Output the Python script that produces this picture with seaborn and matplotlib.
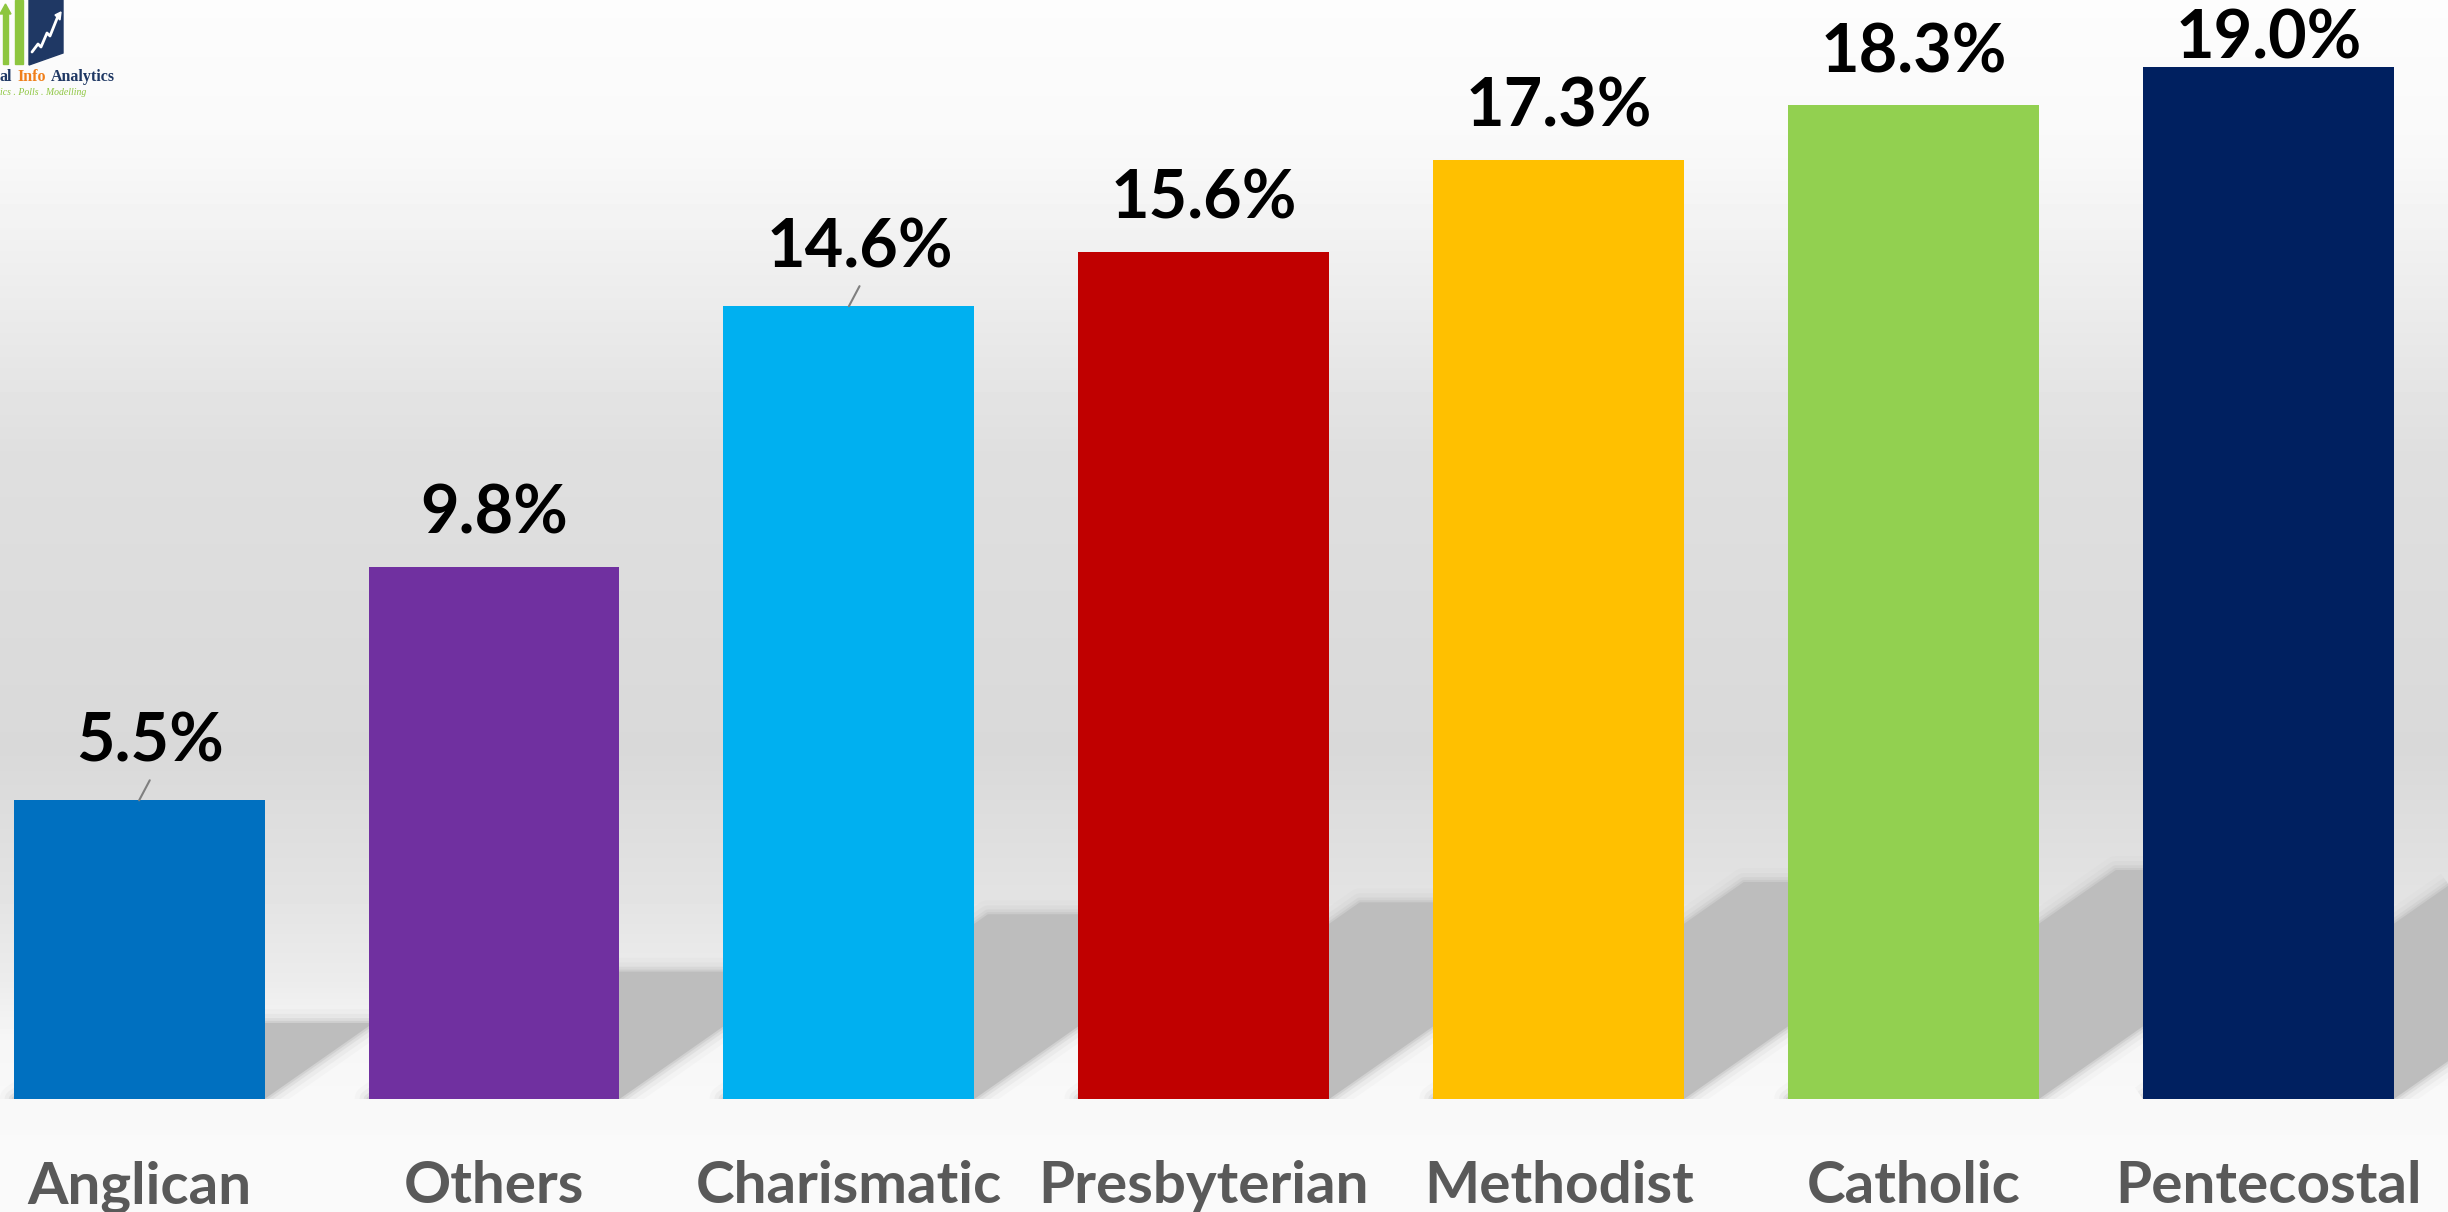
import numpy as np
import pandas as pd
import matplotlib
matplotlib.use("Agg")
import matplotlib.pyplot as plt
from matplotlib.patches import Polygon, Rectangle
import seaborn as sns

# data
categories = ['Anglican', 'Others', 'Charismatic', 'Presbyterian', 'Methodist', 'Catholic', 'Pentecostal']
shares = [5.5, 9.8, 14.6, 15.6, 17.3, 18.3, 19.0]
colors = ['#0070C0', '#7030A0', '#00B0F0', '#C00000', '#FFC000', '#92D050', '#002060']
leader_labels = ['Anglican', 'Charismatic']

df = pd.DataFrame({'religion': categories, 'share': shares})

sns.set_theme(style='white')
plt.rcParams['font.family'] = ['Lato', 'DejaVu Sans']

fig = plt.figure(figsize=(24.48, 12.12), dpi=100)

# background: light wall gradient + floor
bg = fig.add_axes([0, 0, 1, 1], zorder=0)
rows = np.arange(1212)
stops_y = [0, 150, 450, 750, 880, 980, 1040, 1100, 1212]
stops_v = [0.99, 0.975, 0.875, 0.85, 0.885, 0.925, 0.965, 0.975, 0.98]
grad = np.interp(rows, stops_y, stops_v).reshape(-1, 1)
bg.imshow(grad, cmap='gray', vmin=0, vmax=1, aspect='auto', extent=(0, 1, 0, 1))
bg.axis('off')

ax = fig.add_axes([0, 113 / 1212, 1, 1099 / 1212], zorder=1)
ax.patch.set_alpha(0)
width = 0.707
ytop = 20.24

# bar shadows falling up and to the right (soft edges via halo strokes)
shadow_c = '#bdbdbd'
for i, v in enumerate(shares):
    dy = 0.19 + 0.22 * v
    dx = 0.219 * dy
    x0, x1 = i - width / 2, i + width / 2
    pts = [(x0, 0), (x1, 0), (x1 + dx, dy), (x0 + dx, dy)]
    for lw, a in [(20, 0.08), (13, 0.14), (7, 0.25), (3, 0.4)]:
        ax.add_patch(Polygon(pts, closed=True, facecolor='none', edgecolor=shadow_c,
                             lw=lw, alpha=a, zorder=1, joinstyle='round'))
    ax.add_patch(Polygon(pts, closed=True, facecolor=shadow_c, edgecolor='none', zorder=1.5))

sns.barplot(data=df, x='religion', y='share', hue='religion', palette=colors,
            width=width, saturation=1, legend=False, linewidth=0, ax=ax)
for bar in ax.containers:
    for p in bar:
        p.set_zorder(3)
        p.set_edgecolor('none')

# value labels
for i, (name, v) in enumerate(zip(categories, shares)):
    if name in leader_labels:
        y = v + 0.72
        xl = i + 0.03
        ax.plot([i, xl], [v, v + 0.37], color='#7f7f7f', lw=1.5, zorder=4)
    else:
        y = min(v + 0.61, ytop - 1.07)
        xl = i
    ax.text(xl, y, f'{v:.1f}%', ha='center', va='baseline', fontsize=48,
            fontweight='bold', color='black', zorder=5)

ax.set_xlim(-0.392, 6.506)
ax.set_ylim(0, ytop)
ax.set_xlabel('')
ax.set_ylabel('')
ax.set_yticks([])
ax.tick_params(axis='x', length=0, pad=44, labelsize=42, labelcolor='#595959')
for t in ax.get_xticklabels():
    t.set_fontweight('bold')
sns.despine(ax=ax, left=True, bottom=True)

# partial logo in the top-left corner
lg = fig.add_axes([0, 1 - 110 / 1212, 200 / 2448, 110 / 1212], zorder=6)
lg.set_xlim(0, 200)
lg.set_ylim(110, 0)
lg.axis('off')
lg.add_patch(Rectangle((3, 12), 5, 52, color='#8dc63f'))
lg.add_patch(Polygon([(0, 14), (5.5, 4), (11, 14)], color='#8dc63f'))
lg.add_patch(Rectangle((15, 0), 8, 64, color='#8dc63f'))
lg.add_patch(Polygon([(29, 0), (63, 0), (63, 53), (29, 65)], color='#1f3864'))
lg.plot([32, 38, 41, 47, 50, 58], [52, 44, 47, 33, 36, 16], color='white', lw=2)
lg.add_patch(Polygon([(55, 15), (61, 12), (60, 20)], color='white'))
lg.text(0, 81, 'al', fontsize=11.5, family='Liberation Serif', fontweight='bold', color='#1f3864')
lg.text(17, 81, 'Info', fontsize=11.5, family='Liberation Serif', fontweight='bold', color='#f07f1b')
lg.text(51, 81, 'Analytics', fontsize=11.5, family='Liberation Serif', fontweight='bold', color='#1f3864')
lg.text(0, 95, 'ics . Polls . Modelling', fontsize=7, family='Liberation Serif',
        style='italic', color='#8dc63f')

fig.savefig('out.png', dpi=100)
